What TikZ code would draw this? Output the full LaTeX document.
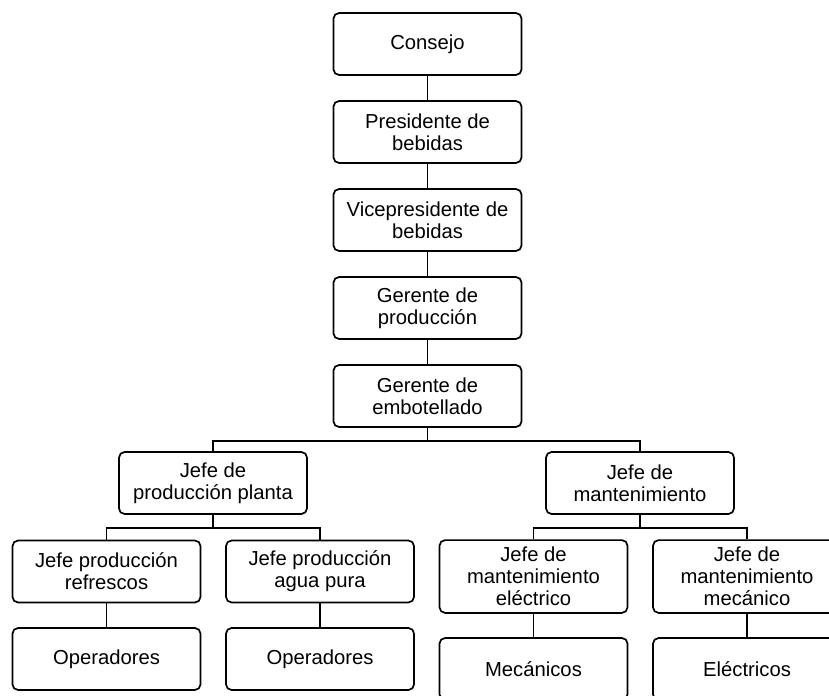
\documentclass[tikz,border=0pt]{standalone}
\usepackage{fontspec}
\setmainfont{Liberation Sans}
\usetikzlibrary{positioning}

\begin{document}
\begin{tikzpicture}[x=0.025cm,y=-0.025cm,line width=1.2pt,
  caja/.style={draw,rounded corners=4pt,align=center,minimum width=4.7cm,
    minimum height=1.55cm,inner sep=1pt,font=\fontsize{14.4}{15.8}\selectfont},
  alta/.style={caja,minimum height=1.82cm}]
\clip (0,0) rectangle (829,696);
% cadena central
\node[caja] (consejo) at (427.5,44) {Consejo};
\node[caja] (pres) at (427.5,132) {Presidente de\\bebidas};
\node[caja] (vice) at (427.5,220) {Vicepresidente de\\bebidas};
\node[caja] (gprod) at (427.5,308) {Gerente de\\producción};
\node[caja] (gemb) at (427.5,396) {Gerente de\\embotellado};
% jefes
\node[caja] (jplanta) at (213,483) {Jefe de\\producción planta};
\node[caja] (jmant) at (640,483) {Jefe de\\mantenimiento};
\node[caja] (jrefr) at (106.5,571.5) {Jefe producción\\refrescos};
\node[caja] (jagua) at (320,571.5) {Jefe producción\\agua pura};
\node[alta] (jelec) at (533.5,576.5) {Jefe de\\mantenimiento\\eléctrico};
\node[alta] (jmec) at (747,576.5) {Jefe de\\mantenimiento\\mecánico};
% personal
\node[caja] (op1) at (106.5,659) {Operadores};
\node[caja] (op2) at (320,659) {Operadores};
\node[caja] (mecs) at (533.5,669) {Mecánicos};
\node[caja] (elecs) at (747,669) {Eléctricos};
% lineas
\draw (consejo) -- (pres);
\draw (pres) -- (vice);
\draw (vice) -- (gprod);
\draw (gprod) -- (gemb);
\coordinate (b1) at (427.5,441);
\draw (gemb) -- (b1) -| (jplanta);
\draw (b1) -| (jmant);
\coordinate (b2) at (213,528);
\draw (jplanta) -- (b2) -| (jrefr);
\draw (b2) -| (jagua);
\coordinate (b3) at (640,528);
\draw (jmant) -- (b3) -| (jelec);
\draw (b3) -| (jmec);
\draw (jrefr) -- (op1);
\draw (jagua) -- (op2);
\draw (jelec) -- (mecs);
\draw (jmec) -- (elecs);
\end{tikzpicture}
\end{document}
